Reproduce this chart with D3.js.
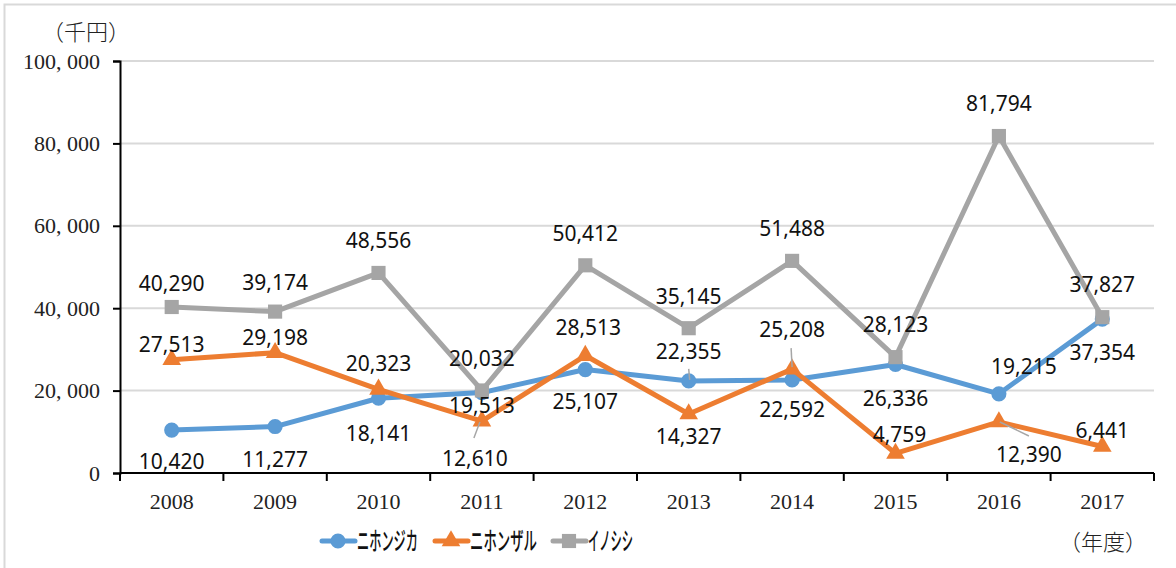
<!DOCTYPE html>
<html>
<head>
<meta charset="utf-8">
<script src="https://cdn.jsdelivr.net/npm/d3@7"></script>
<style>
  body { margin: 0; background: #fff; }
  svg { display: block; }
</style>
</head>
<body>
<div id="chart"></div>
<script>
// data
var years = ["2008","2009","2010","2011","2012","2013","2014","2015","2016","2017"];
var shika = [10420, 11277, 18141, 19513, 25107, 22355, 22592, 26336, 19215, 37354];
var saru  = [27513, 29198, 20323, 12610, 28513, 14327, 25208, 4759, 12390, 6441];
var inoshishi = [40290, 39174, 48556, 20032, 50412, 35145, 51488, 28123, 81794, 37827];
var yTicks = [0, 20000, 40000, 60000, 80000, 100000];
var seriesNames = ["ニホンジカ", "ニホンザル", "イノシシ"];

// label offsets (dx, dy from the point)
var shikaLab = [[0,32],[0,33],[0,35],[0,13],[0,32],[0,-29],[0,30],[0,34],[25,-27],[0,34]];
var saruLab  = [[0,-15],[0,-15],[0,-26],[-7,38],[3,-28],[0,23],[0,-39],[4,-19],[30,33],[0,-16]];
var inoLab   = [[0,-23],[0,-29],[0,-32],[0,-32],[0,-32],[0,-32],[0,-32],[0,-32],[0,-32],[0,-33]];

// leader lines: [index, x1, y1, x2, y2] relative to point
var shikaLead = [[5, 0, -12, 1, -1]];
var saruLead  = [[3, -8, 17, -2, 1], [6, -1, -21, 0, -2], [8, 1, 0, 30, 14]];

var width = 1176, height = 568;
var margin = {top: 61, left: 120, right: 22, bottom: 95};

var svg = d3.select("#chart").append("svg")
  .attr("width", width).attr("height", height);

// outer frame
svg.append("rect")
  .attr("x", 4.5).attr("y", 4.5)
  .attr("width", width + 10).attr("height", height + 10)
  .attr("fill", "none").attr("stroke", "#d9d9d9").attr("stroke-width", 2);

var x = d3.scaleBand().domain(years)
  .range([margin.left, width - margin.right]);
var y = d3.scaleLinear().domain([0, 100000])
  .range([height - margin.bottom, margin.top]);

function cx(i) { return x(years[i]) + x.bandwidth() / 2; }

// gridlines
svg.append("g").selectAll("line")
  .data(yTicks.slice(1))
  .join("line")
  .attr("x1", margin.left).attr("x2", width - margin.right)
  .attr("y1", d => y(d)).attr("y2", d => y(d))
  .attr("stroke", "#d9d9d9").attr("stroke-width", 2);

var serif = "'Liberation Serif', 'DejaVu Serif', serif";

// y axis
var yAxis = d3.axisLeft(y).tickValues(yTicks).tickSize(7).tickPadding(13)
  .tickFormat(d => d3.format(",")(d).replace(",", ", "));
svg.append("g")
  .attr("transform", "translate(" + margin.left + ",0)")
  .call(yAxis)
  .call(g => g.select(".domain").attr("stroke", "#000").attr("stroke-width", 2))
  .call(g => g.selectAll(".tick line").attr("stroke", "#000").attr("stroke-width", 2))
  .call(g => g.selectAll("text").attr("font-family", serif).attr("font-size", 22).attr("fill", "#222"));

// x axis
var xAxis = d3.axisBottom(x).tickSize(0).tickPadding(20);
var gx = svg.append("g")
  .attr("transform", "translate(0," + y(0) + ")")
  .call(xAxis)
  .call(g => g.select(".domain").attr("stroke", "#000").attr("stroke-width", 2).attr("d", "M" + margin.left + ",0H" + (width - margin.right)))
  .call(g => g.selectAll("text").attr("font-family", serif).attr("font-size", 22).attr("fill", "#222"));
// band boundary ticks
gx.append("g").selectAll("line")
  .data(years.concat(["end"]))
  .join("line")
  .attr("x1", (d, i) => margin.left + i * x.bandwidth())
  .attr("x2", (d, i) => margin.left + i * x.bandwidth())
  .attr("y1", 0).attr("y2", 8)
  .attr("stroke", "#000").attr("stroke-width", 2);

// unit labels
var cjkSerif = "'Liberation Serif', 'Noto Sans CJK JP', serif";
svg.append("text").attr("x", 86).attr("y", 40)
  .attr("text-anchor", "middle").attr("font-family", cjkSerif)
  .attr("font-size", 22).attr("font-weight", 300).attr("fill", "#222").text("（千円）");
svg.append("text").attr("x", 1103).attr("y", 550)
  .attr("text-anchor", "middle").attr("font-family", cjkSerif)
  .attr("font-size", 22).attr("font-weight", 300).attr("fill", "#222").text("（年度）");

var colors = ["#5b9bd5", "#ed7d31", "#a5a5a5"];
var seriesData = [shika, saru, inoshishi];
var shapes = [d3.symbolCircle, d3.symbolTriangle, d3.symbolSquare];
var sizes = [180, 150, 200];

var line = d3.line()
  .x((d, i) => cx(i))
  .y(d => y(d));

seriesData.forEach(function(vals, s) {
  var g = svg.append("g");
  g.append("path").datum(vals)
    .attr("d", line)
    .attr("fill", "none")
    .attr("stroke", colors[s])
    .attr("stroke-width", 5)
    .attr("stroke-linejoin", "round");
  g.selectAll("path.m").data(vals).join("path")
    .attr("class", "m")
    .attr("transform", (d, i) => "translate(" + cx(i) + "," + y(d) + ")")
    .attr("d", d3.symbol().type(shapes[s]).size(sizes[s]))
    .attr("fill", colors[s]);
});

// leader lines
[[shika, shikaLead], [saru, saruLead]].forEach(function(p) {
  var vals = p[0];
  svg.append("g").selectAll("line").data(p[1]).join("line")
    .attr("x1", d => cx(d[0]) + d[1]).attr("y1", d => y(vals[d[0]]) + d[2])
    .attr("x2", d => cx(d[0]) + d[3]).attr("y2", d => y(vals[d[0]]) + d[4])
    .attr("stroke", "#a6a6a6").attr("stroke-width", 1.5);
});

// data labels
var fmt = d3.format(",");
var labOffsets = [shikaLab, saruLab, inoLab];
seriesData.forEach(function(vals, s) {
  svg.append("g").selectAll("text").data(vals).join("text")
    .attr("x", (d, i) => cx(i) + labOffsets[s][i][0])
    .attr("y", (d, i) => y(d) + labOffsets[s][i][1])
    .attr("dy", "0.35em")
    .attr("text-anchor", "middle")
    .attr("font-family", "'Noto Sans', 'Open Sans', sans-serif")
    .attr("font-size", 21)
    .attr("fill", "#111")
    .text(d => fmt(d));
});

// legend
var legX = [322, 435, 553];
var legTextW = [61, 67, 45];
var legY = 541;
var leg = svg.append("g");
seriesNames.forEach(function(name, s) {
  leg.append("line")
    .attr("x1", legX[s]).attr("x2", legX[s] + 33)
    .attr("y1", legY).attr("y2", legY)
    .attr("stroke", colors[s]).attr("stroke-width", 5)
    .attr("stroke-linecap", "round");
  leg.append("path")
    .attr("transform", "translate(" + (legX[s] + 16) + "," + legY + ")")
    .attr("d", d3.symbol().type(shapes[s]).size(sizes[s]))
    .attr("fill", colors[s]);
  leg.append("text")
    .attr("x", legX[s] + 35).attr("y", legY + 9)
    .attr("font-family", "'Noto Sans CJK JP', sans-serif")
    .attr("font-size", 25)
    .attr("font-weight", 500)
    .attr("textLength", legTextW[s])
    .attr("lengthAdjust", "spacingAndGlyphs")
    .attr("fill", "#111")
    .text(name);
});
</script>
</body>
</html>
